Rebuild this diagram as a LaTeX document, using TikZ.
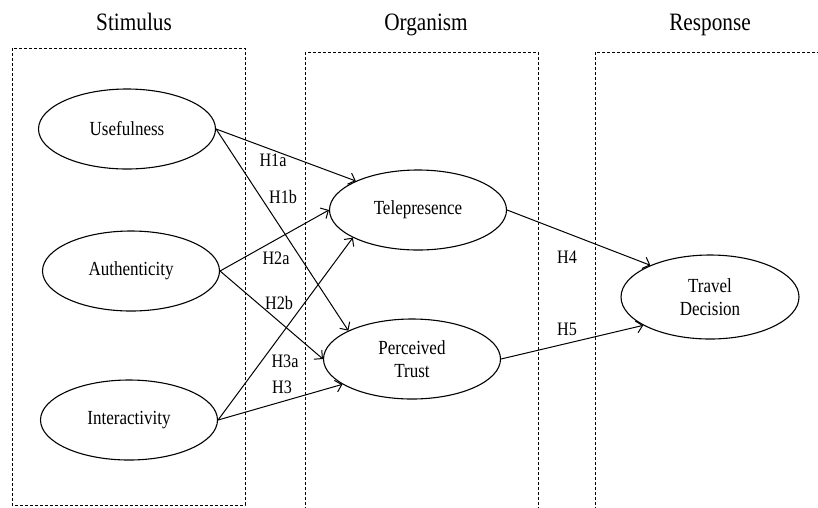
\documentclass[tikz,border=0pt]{standalone}
\usepackage{fontspec}
\setmainfont[FakeStretch=0.85]{Liberation Serif}
\usetikzlibrary{shapes.geometric,arrows.meta}
\begin{document}
\begin{tikzpicture}[x=1pt,y=-1pt,
        var/.style={draw,ellipse,line width=1.1pt,minimum width=177pt,minimum height=80pt,inner sep=0pt,align=center,font=\fontsize{20}{25}\selectfont},
        title/.style={font=\fontsize{25}{30}\selectfont},
        hyp/.style={font=\fontsize{19}{22}\selectfont},
        path/.style={-{Straight Barb[length=6pt,width=12pt]},line width=1pt},
        frame/.style={densely dashed,line width=0.6pt}]
        \useasboundingbox (0,0) rectangle (818,507);
        \draw[frame] (12,48) rectangle (245,505);
        \draw[frame] (305,52) rectangle (538,512);
        \draw[frame] (595,52) rectangle (830,512);
        \node[title] (stim) at (134,22) {Stimulus};
        \node[title] (org) at (426,25) {Organism};
        \node[title] (resp) at (710,25) {Response};
        \node[var] (use) at (127,129) {Usefulness};
        \node[var] (auth) at (131,271) {Authenticity};
        \node[var] (inter) at (129,420) {Interactivity};
        \node[var] (tele) at (418,210) {Telepresence};
        \node[var] (trust) at (412,359) {Perceived\\[-2pt]Trust};
        \node[var,minimum width=178pt,minimum height=84pt] (dec) at (710,297) {Travel\\[-2pt]Decision};
        \draw[path] (use.east) -- (tele.155);
        \draw[path] (use.east) -- (trust.156);
        \draw[path] (auth.east) -- (tele.west);
        \draw[path] (auth.east) -- (trust.west);
        \draw[path] (inter.east) -- (tele.203);
        \draw[path] (inter.east) -- (trust.200);
        \draw[path] (tele.east) -- (dec.152);
        \draw[path] (trust.east) -- (dec.203);
        \node[hyp] (h1a) at (273,160) {H1a};
        \node[hyp] (h1b) at (283,197) {H1b};
        \node[hyp] (h2a) at (276,258) {H2a};
        \node[hyp] (h2b) at (279,303) {H2b};
        \node[hyp] (h3a) at (285,361) {H3a};
        \node[hyp] (h3) at (282,387) {H3};
        \node[hyp] (h4) at (567,257) {H4};
        \node[hyp] (h5) at (567,329) {H5};
\end{tikzpicture}
\end{document}
